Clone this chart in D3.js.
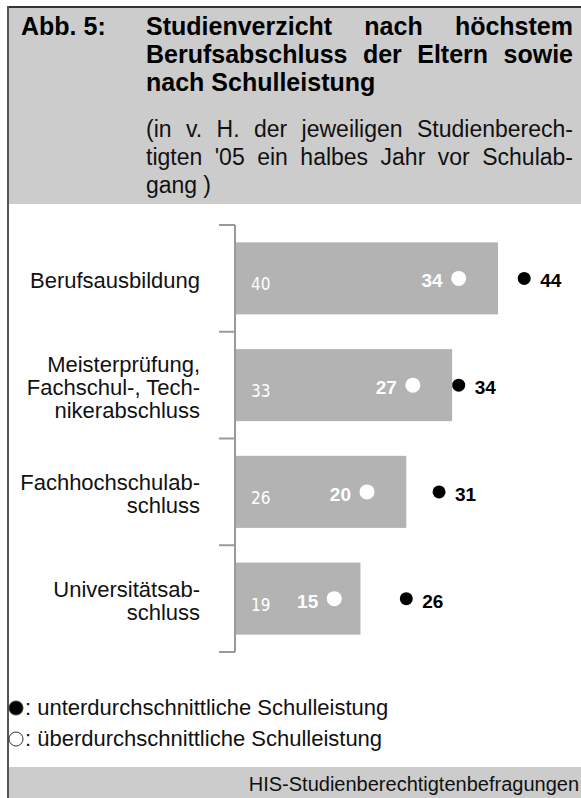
<!DOCTYPE html>
<html>
<head>
<meta charset="utf-8">
<script src="https://cdn.jsdelivr.net/npm/d3@7"></script>
<style>
  body { margin: 0; background: #fff; }
  svg { display: block; font-family: "Liberation Sans", Arial, sans-serif; }
</style>
</head>
<body>
<div id="chart"></div>
<script>
// data
const categories = [
  ['Berufsausbildung'],
  ['Meisterprüfung,', 'Fachschul-, Tech-', 'nikerabschluss'],
  ['Fachhochschulab-', 'schluss'],
  ['Universitätsab-', 'schluss']
];
const totalValues = [40, 33, 26, 19];
const aboveAvgValues = [34, 27, 20, 15];
const belowAvgValues = [44, 34, 31, 26];

const titleLines = ['Studienverzicht nach höchstem', 'Berufsabschluss der Eltern sowie', 'nach Schulleistung'];
const subtitleLines = ['(in v. H. der jeweiligen Studienberech-', "tigten '05 ein halbes Jahr vor Schulab-", 'gang )'];
const legendLabels = [': unterdurchschnittliche Schulleistung', ': überdurchschnittliche Schulleistung'];
const sourceText = 'HIS-Studienberechtigtenbefragungen';

const width = 581, height = 798;

const svg = d3.select('#chart').append('svg')
  .attr('width', width)
  .attr('height', height);

// frame + header / footer bands
svg.append('rect').attr('x', 8).attr('y', 7).attr('width', 590).attr('height', 197).attr('fill', '#cccccc');
svg.append('rect').attr('x', 8).attr('y', 767).attr('width', 590).attr('height', 40).attr('fill', '#cccccc');
svg.append('line').attr('x1', 8).attr('x2', 600).attr('y1', 7).attr('y2', 7).attr('stroke', '#333').attr('stroke-width', 2);
svg.append('line').attr('x1', 8).attr('x2', 8).attr('y1', 6).attr('y2', 800).attr('stroke', '#555').attr('stroke-width', 2);

// justified text: spreads the words of a line between x0 and x1
function justified(g, text, x0, x1, y, justify) {
  const words = text.split(' ');
  const t = g.append('g');
  const nodes = words.map(w => t.append('text').attr('y', y).text(w));
  const widths = nodes.map(n => n.node().getComputedTextLength());
  const total = d3.sum(widths);
  const space = widths.length > 1 && justify ? (x1 - x0 - total) / (words.length - 1) : g.attr('data-space') * 1;
  let x = x0;
  nodes.forEach((n, i) => { n.attr('x', x); x += widths[i] + space; });
}

const header = svg.append('g').attr('fill', '#000');
header.append('text').attr('x', 21).attr('y', 35)
  .attr('font-size', 25).attr('font-weight', 'bold').text('Abb. 5:');

const titleG = header.append('g').attr('font-size', 25).attr('font-weight', 'bold').attr('data-space', 7);
titleLines.forEach((l, i) => justified(titleG, l, 146, 573, 35 + i * 28, i < titleLines.length - 1));

const subG = header.append('g').attr('font-size', 23).attr('fill', '#111').attr('data-space', 6);
subtitleLines.forEach((l, i) => justified(subG, l, 146, 573, 137 + i * 28, i < subtitleLines.length - 1));

// scales
const x = d3.scaleLinear().domain([0, 40]).range([236, 498]);
const y = d3.scaleBand().domain(d3.range(categories.length)).range([225, 652])
  .paddingInner(0.325).paddingOuter(0.1625);

// bars
svg.append('g').selectAll('rect').data(totalValues).join('rect')
  .attr('x', x(0))
  .attr('y', (d, i) => y(i))
  .attr('width', d => x(d) - x(0))
  .attr('height', y.bandwidth())
  .attr('fill', '#b3b3b3');

// bracket axis
const axisG = svg.append('g').attr('stroke', '#9a9a9a').attr('stroke-width', 2).attr('fill', 'none');
axisG.append('line').attr('x1', 235).attr('x2', 235).attr('y1', 225).attr('y2', 652);
const tickYs = d3.range(categories.length + 1).map(i => 225 + i * y.step());
axisG.selectAll('.tick').data(tickYs).join('line')
  .attr('class', 'tick')
  .attr('x1', 219).attr('x2', 235)
  .attr('y1', d => d).attr('y2', d => d);

// category labels
const lineH = 23;
svg.append('g').selectAll('text').data(categories).join('text')
  .attr('text-anchor', 'end')
  .attr('font-size', 22)
  .attr('fill', '#111')
  .each(function(lines, i) {
    const cy = y(i) + y.bandwidth() / 2;
    const top = cy - (lines.length - 1) * lineH / 2 + 10;
    d3.select(this).selectAll('tspan').data(lines).join('tspan')
      .attr('x', 200)
      .attr('y', (d, j) => top + j * lineH)
      .text(d => d);
  });

const rows = svg.append('g').selectAll('g').data(totalValues).join('g')
  .attr('transform', (d, i) => `translate(0,${y(i) + y.bandwidth() / 2})`);

// total value inside bar
rows.append('text')
  .attr('x', 251).attr('y', 12)
  .attr('font-family', '"DejaVu Sans Condensed", "DejaVu Sans", sans-serif')
  .attr('font-size', 17)
  .attr('fill', '#fff')
  .text(d => d);

// above-average: white dot + bold white label
rows.append('circle')
  .attr('cx', (d, i) => x(aboveAvgValues[i]))
  .attr('cy', 0).attr('r', 7.5).attr('fill', '#fff');
rows.append('text')
  .attr('x', (d, i) => x(aboveAvgValues[i]) - 16).attr('y', 9)
  .attr('text-anchor', 'end')
  .attr('font-size', 19).attr('font-weight', 'bold').attr('fill', '#fff')
  .text((d, i) => aboveAvgValues[i]);

// below-average: black dot + bold black label
rows.append('circle')
  .attr('cx', (d, i) => x(belowAvgValues[i]))
  .attr('cy', 0).attr('r', 6.5).attr('fill', '#000');
rows.append('text')
  .attr('x', (d, i) => x(belowAvgValues[i]) + 16).attr('y', 9)
  .attr('font-size', 19).attr('font-weight', 'bold').attr('fill', '#000')
  .text((d, i) => belowAvgValues[i]);

// legend
const legend = svg.append('g').selectAll('g').data(legendLabels).join('g')
  .attr('transform', (d, i) => `translate(0,${708 + i * 31})`);
legend.append('circle')
  .attr('cx', 16).attr('cy', 0).attr('r', 7)
  .attr('fill', (d, i) => i === 0 ? '#000' : '#fff')
  .attr('stroke', '#333').attr('stroke-width', 1);
legend.append('text')
  .attr('x', 25).attr('y', 7)
  .attr('font-size', 22).attr('fill', '#111')
  .text(d => d);

// source
svg.append('text')
  .attr('x', 579).attr('y', 791)
  .attr('text-anchor', 'end')
  .attr('font-size', 20).attr('fill', '#111')
  .text(sourceText);
</script>
</body>
</html>
